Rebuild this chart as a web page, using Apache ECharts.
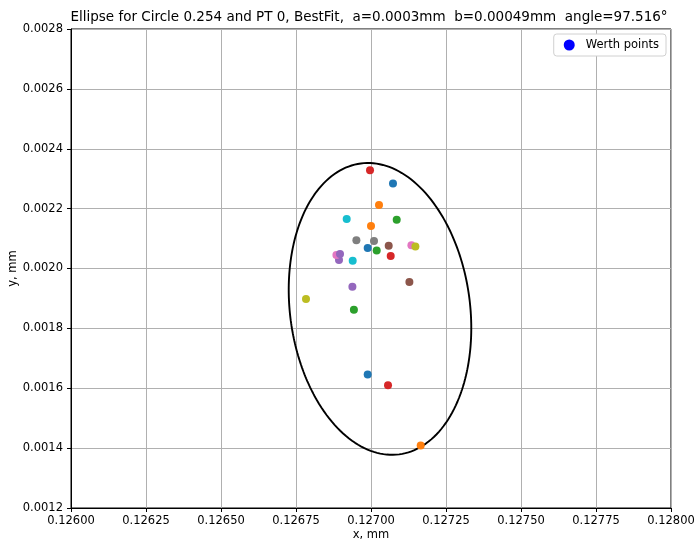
<!DOCTYPE html>
<html>
<head>
<meta charset="utf-8">
<script src="https://cdn.jsdelivr.net/npm/echarts@6/dist/echarts.min.js"></script>
<style>html,body{margin:0;padding:0;background:#fff;}#c{width:697px;height:542px;}</style>
</head>
<body>
<div id="c"></div>
<script>
// Measured points (in plotting order)
var xValues = [
  0.1270733, 0.1270267, 0.1270857, 0.1269967, 0.1268933, 0.1270590, 0.1268847, 0.1269513, 0.1267833, 0.1269190,
  0.1269890, 0.1270000, 0.1270190, 0.1270657, 0.1268967, 0.1271280, 0.1271347, 0.1270100, 0.1271480, 0.1269390,
  0.1269890, 0.1271657, 0.1269430, 0.1270567, 0.1269380
];
var yValues = [
  0.0022836, 0.0022124, 0.0021632, 0.0023281, 0.0020284, 0.0020763, 0.0020452, 0.0020940, 0.0018980, 0.0021656,
  0.0020686, 0.0021421, 0.0020605, 0.0020418, 0.0020485, 0.0019548, 0.0020773, 0.0020920, 0.0020739, 0.0020261,
  0.0016458, 0.0014084, 0.0018622, 0.0016104, 0.0019391
];
// Ellipse parameters (from title) and fitted centre
var ellipseCenter = [0.127030, 0.001865];
var ellipseA = 0.0003, ellipseB = 0.00049, ellipseAngleDeg = 97.516;
// Axis ranges
var xRange = [0.12600, 0.12800], xStep = 0.00025;
var yRange = [0.0012, 0.0028], yStep = 0.0002;

var palette = ['#1f77b4','#ff7f0e','#2ca02c','#d62728','#9467bd','#8c564b','#e377c2','#7f7f7f','#bcbd22','#17becf'];

var pts = xValues.map(function(x,i){
  return {value:[x, yValues[i]], itemStyle:{color: palette[i % palette.length]}};
});

var th = ellipseAngleDeg * Math.PI / 180;
var ell = [];
for (var k = 0; k <= 360; k++) {
  var t = k * Math.PI / 180;
  var u = ellipseB * Math.cos(t), v = ellipseA * Math.sin(t);
  ell.push([ellipseCenter[0] + u*Math.cos(th) - v*Math.sin(th),
            ellipseCenter[1] + u*Math.sin(th) + v*Math.cos(th)]);
}

var FONT = 'DejaVu Sans';
var chart = echarts.init(document.getElementById('c'), null, {renderer:'canvas'});
chart.setOption({
  animation:false,
  backgroundColor:'#fff',
  textStyle:{fontFamily:FONT},
  title:{
    text:'Ellipse for Circle 0.254 and PT 0, BestFit,  a=0.0003mm  b=0.00049mm  angle=97.516°',
    left:364, top:5, textAlign:'center',
    textStyle:{fontFamily:FONT, fontSize:13.5, fontWeight:'normal', color:'#000'}
  },
  legend:{
    data:['Werth points'], right:31, top:34, icon:'circle', itemWidth:11, itemHeight:11, itemGap:8,
    padding:[5,7,5,10], backgroundColor:'#fff', borderColor:'#d0d0d0', borderWidth:1, borderRadius:3,
    textStyle:{fontFamily:FONT, fontSize:11.5, color:'#000', padding:[0,0,0,6]}
  },
  grid:{left:71, top:29, width:600, height:479, outerBoundsMode:'none', containLabel:false,
    show:true, borderColor:'#000', borderWidth:1, backgroundColor:'transparent'},
  xAxis:{
    type:'value', min:xRange[0], max:xRange[1], interval:xStep,
    name:'x, mm', nameLocation:'middle', nameGap:21, nameMoveOverlap:false,
    nameTextStyle:{fontFamily:FONT, fontSize:11.5, color:'#000'},
    axisLine:{show:true, lineStyle:{color:'#000', width:1}},
    axisTick:{show:true, length:4, lineStyle:{color:'#000'}},
    axisLabel:{fontFamily:FONT, fontSize:11.5, color:'#000', margin:7, showMinLabel:true, showMaxLabel:true,
      formatter:function(v){return v.toFixed(5);}},
    splitLine:{show:true, lineStyle:{color:'#b0b0b0', width:1}}
  },
  yAxis:{
    type:'value', min:yRange[0], max:yRange[1], interval:yStep,
    name:'y, mm', nameLocation:'middle', nameGap:52, nameMoveOverlap:false,
    nameTextStyle:{fontFamily:FONT, fontSize:11.5, color:'#000'},
    axisLine:{show:true, lineStyle:{color:'#000', width:1}},
    axisTick:{show:true, length:4, lineStyle:{color:'#000'}},
    axisLabel:{fontFamily:FONT, fontSize:11.5, color:'#000', margin:8, showMinLabel:true, showMaxLabel:true,
      formatter:function(v){return v.toFixed(4);}},
    splitLine:{show:true, lineStyle:{color:'#b0b0b0', width:1}}
  },
  series:[
    {type:'line', name:'ellipse', data:ell, showSymbol:false, symbol:'none', silent:true, z:2,
     lineStyle:{color:'#000', width:1.9}},
    {type:'scatter', name:'Werth points', data:pts, symbol:'circle', symbolSize:8, z:3,
     itemStyle:{color:'#0000ff', opacity:1}}
  ]
});
</script>
</body>
</html>
